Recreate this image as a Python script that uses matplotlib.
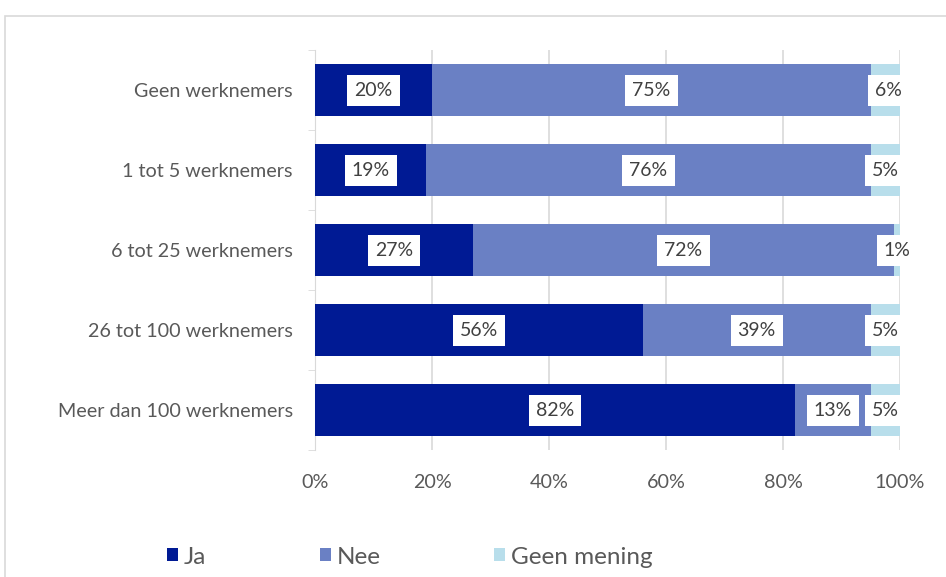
import matplotlib.pyplot as plt
from matplotlib.patches import Rectangle, Patch

categories = ["Geen werknemers", "1 tot 5 werknemers", "6 tot 25 werknemers",
              "26 tot 100 werknemers", "Meer dan 100 werknemers"]
ja = [20, 19, 27, 56, 82]
nee = [75, 76, 72, 39, 13]
geen_mening = [6, 5, 1, 5, 5]
series_names = ["Ja", "Nee", "Geen mening"]
x_ticks = [0, 20, 40, 60, 80, 100]

colors = ["#001A94", "#6A80C4", "#B8DEEB"]
plt.rcParams['font.family'] = ['Lato', 'DejaVu Sans']

fig = plt.figure(figsize=(9.46, 5.77), dpi=100)
ax = fig.add_axes([315 / 946, 1 - 450 / 577, 585 / 946, 400 / 577])

# kader rond de grafiek
fig.patches.append(Rectangle((5 / 946, -0.1), 1.2, 1 - 16 / 577 + 0.1,
                             transform=fig.transFigure, fill=False,
                             edgecolor="#D9D9D9", linewidth=1.2))

y = list(range(len(categories)))
left = [0] * len(categories)
for vals, name, col in zip([ja, nee, geen_mening], series_names, colors):
    ax.barh(y, vals, left=left, height=0.66, color=col, label=name, zorder=3)
    for yi, l, v in zip(y, left, vals):
        ax.text(l + v / 2, yi, f"{v}%", ha="center", va="center", fontsize=14,
                color="#404040", zorder=4,
                bbox=dict(facecolor="white", edgecolor="none", pad=5))
    left = [a + b for a, b in zip(left, vals)]

ax.set_ylim(len(categories) - 0.5, -0.5)
ax.set_xlim(0, 100)
ax.set_yticks(y)
ax.set_yticklabels(categories, fontsize=14.2, color="#595959")
ax.set_yticks([i + 0.5 for i in range(-1, len(categories))], minor=True)
ax.tick_params(axis="y", which="major", length=0, pad=16)
ax.tick_params(axis="y", which="minor", length=5, color="#D9D9D9")
ax.set_xticks(x_ticks)
ax.set_xticklabels([f"{t}%" for t in x_ticks], fontsize=14.2, color="#595959")
ax.tick_params(axis="x", length=0, pad=17)
ax.grid(axis="x", color="#D9D9D9", linewidth=1.2, zorder=0)
for s in ["top", "right", "bottom"]:
    ax.spines[s].set_visible(False)
ax.spines["left"].set_color("#D9D9D9")

handles = [Patch(facecolor=c, edgecolor="none") for c in colors]
fig.legend(handles, series_names, loc="center left", bbox_to_anchor=(155 / 946, 1 - 557 / 577),
           ncol=3, frameon=False, fontsize=17.5, handlelength=0.45, handleheight=0.45,
           handletextpad=0.25, columnspacing=4.65, borderpad=0, labelcolor="#595959")

fig.savefig("out.png", dpi=100)
